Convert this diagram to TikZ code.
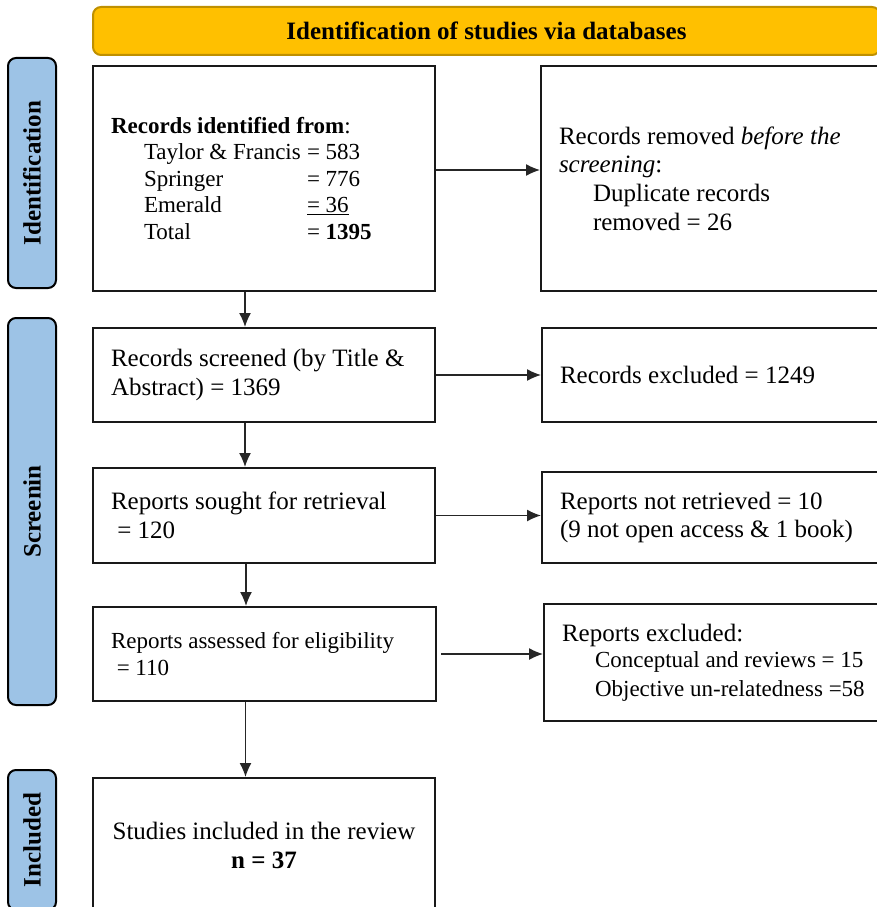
\documentclass[tikz,border=0pt]{standalone}
\usepackage{fontspec}
\setmainfont{Liberation Serif}
\usetikzlibrary{arrows.meta}
\definecolor{bannerfill}{HTML}{FFC000}
\definecolor{bannerline}{HTML}{BF9000}
\definecolor{sidefill}{HTML}{9DC3E6}
\newcommand{\txtL}{\fontsize{25}{28.7}\selectfont}
\newcommand{\txtS}{\fontsize{23}{26.5}\selectfont}
\newcommand{\srcrow}[2]{\hspace*{33pt}\makebox[163pt][l]{#1}#2}
\begin{document}
\begin{tikzpicture}[x=1pt, y=-1pt, >={Latex[length=14pt,width=12pt]},
	box/.style={draw=black!90, line width=2pt, anchor=north west, inner xsep=18pt, inner ysep=0pt, align=flush left, font=\txtL},
	side/.style={draw=black, line width=2pt, fill=sidefill, rounded corners=8pt, rotate=90, minimum height=48pt, inner sep=0pt, font=\txtL\bfseries},
	flow/.style={->, line width=1.3pt, draw=black!85}]
	\useasboundingbox (0,0) rectangle (877,907);
	\clip (0,0) rectangle (877,907);
	
	% 1. 标题栏与左侧阶段标签
	\node[draw=bannerline, fill=bannerfill, line width=2pt, rounded corners=8pt, anchor=north west, text depth=0pt,
		minimum width=787pt, minimum height=48pt, font=\txtL\bfseries] (head) at (92,6) {Identification of studies via databases};
	\node[side, minimum width=230pt] (phaseid) at (32,173) {Identification};
	\node[side, minimum width=387pt] (phasescr) at (32,511.5) {Screenin};
	\node[side, minimum width=140pt] (phaseinc) at (32,840) {Included};
	
	% 2. 左列：主流程
	\node[box, font=\txtS, text width=306pt, minimum height=225pt] (rec) at (92,65) {%
		\textbf{Records identified from}:\\
		\srcrow{Taylor \& Francis}{= 583}\\
		\srcrow{Springer}{= 776}\\
		\srcrow{Emerald}{\underline{= 36}}\\
		\srcrow{Total}{= \textbf{1395}}};
	\node[box, text width=306pt, minimum height=94pt] (scr) at (92,327) {Records screened (by Title \&\\Abstract) = 1369};
	\node[box, text width=306pt, minimum height=95pt] (sought) at (92,467) {Reports sought for retrieval\\\ = 120};
	\node[box, font=\txtS, text width=307pt, minimum height=94pt] (elig) at (92,606) {Reports assessed for eligibility\\\ = 110};
	\node[box, align=flush center, text width=306pt, minimum height=135pt] (incl) at (92,777) {Studies included in the review\\\textbf{n = 37}};
	
	% 3. 右列：排除记录 (右边框在图外)
	\node[box, text width=320pt, minimum height=225pt] (dup) at (540,65) {%
		Records removed \textit{before the}\\
		\textit{screening}:\\
		\hspace*{34pt}Duplicate records\\
		\hspace*{34pt}removed = 26};
	\node[box, text width=320pt, minimum height=94pt] (excl) at (541,327) {Records excluded = 1249};
	\node[box, text width=320pt, minimum height=91pt] (notret) at (541,471) {Reports not retrieved = 10\\(9 not open access \& 1 book)};
	\node[box, text width=320pt, minimum height=117pt] (rexcl) at (543,603) {%
		Reports excluded:\\
		{\txtS\hspace*{33pt}Conceptual and reviews = 15\\
		\hspace*{33pt}Objective un-relatedness =58}};
	
	% 4. 箭头
	\draw[flow] ([yshift=8.5pt]rec.east) -- ([yshift=8.5pt]rec.east -| dup.west);
	\draw[flow] (scr.east) -- (scr.east -| excl.west);
	\draw[flow] (sought.east) -- (sought.east -| notret.west);
	\draw[flow, shorten <=4pt] (elig.east) -- (elig.east -| rexcl.west);
	
	\draw[flow] ([xshift=-19pt]rec.south) -- ([xshift=-19pt]rec.south |- scr.north);
	\draw[flow] ([xshift=-19pt]scr.south) -- ([xshift=-19pt]scr.south |- sought.north);
	\draw[flow] ([xshift=-18pt]sought.south) -- ([xshift=-18pt]sought.south |- elig.north);
	\draw[flow] ([xshift=-19pt]elig.south) -- ([xshift=-19pt]elig.south |- incl.north);
\end{tikzpicture}
\end{document}
